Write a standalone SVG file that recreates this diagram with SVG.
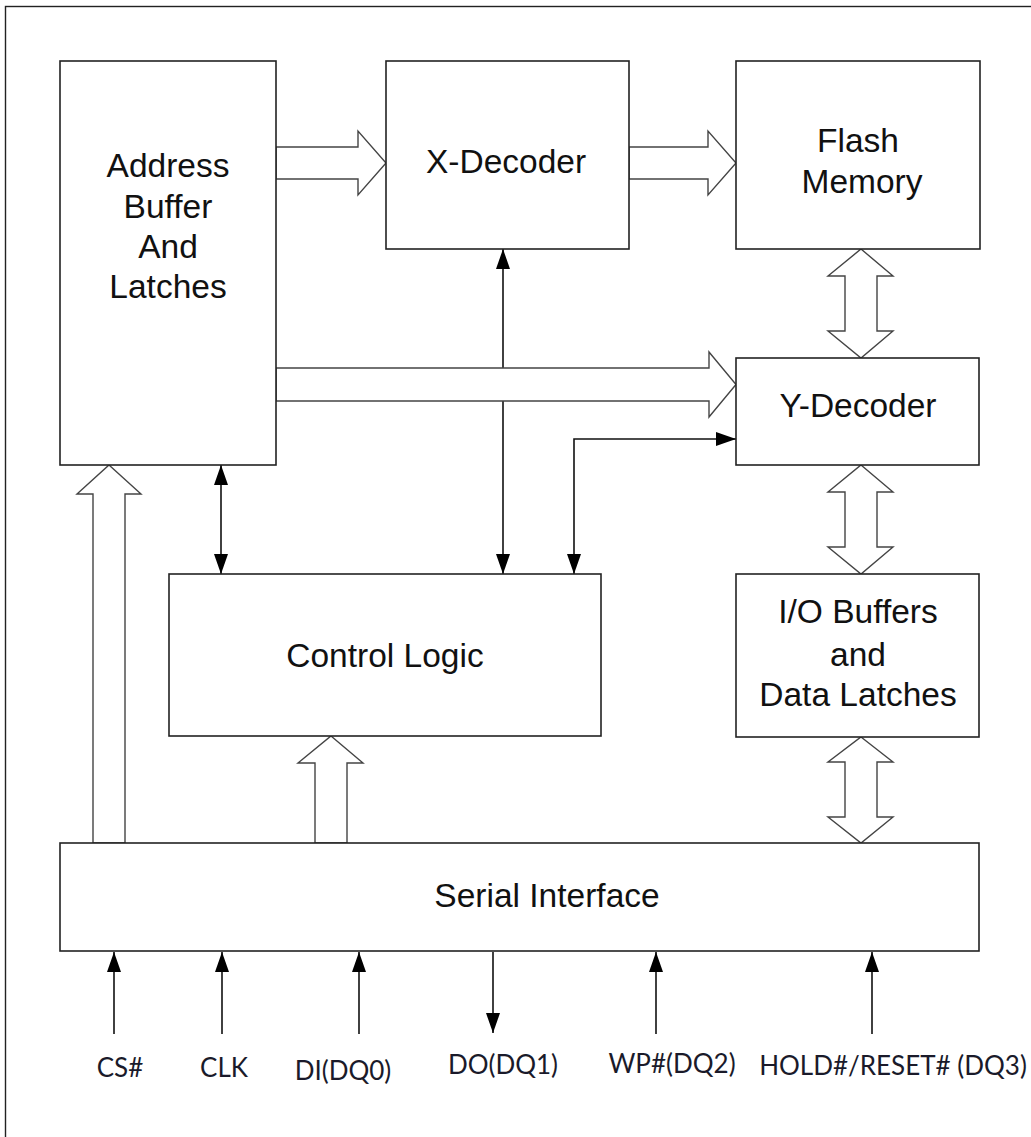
<svg xmlns="http://www.w3.org/2000/svg" width="1031" height="1137" viewBox="0 0 1031 1137">
<style>
.box{fill:#fff;stroke:#222;stroke-width:1.6}
.hollow{fill:#fff;stroke:#444;stroke-width:1.4;stroke-linejoin:miter}
.wire{fill:none;stroke:#111;stroke-width:1.6}
.lbl{font-family:"Liberation Sans",Arial,sans-serif;font-size:33.5px;fill:#111;text-anchor:middle}
.pin{font-family:Lato,"Open Sans",sans-serif;font-size:26px;fill:#1a1a2a;text-anchor:middle}
</style>
<defs>
<marker id="ah" markerUnits="userSpaceOnUse" markerWidth="20" markerHeight="14" refX="20" refY="7" orient="auto-start-reverse" viewBox="0 0 20 14">
<path d="M0,0 L20,7 L0,14 z" fill="#000"/>
</marker>
</defs>
<rect x="0" y="0" width="1031" height="1137" fill="#fff"/>
<rect x="5.5" y="6.5" width="1100" height="1200" fill="none" stroke="#222" stroke-width="1.4"/>

<g id="connectors">
<line class="wire" x1="503" y1="574" x2="503" y2="249" marker-start="url(#ah)" marker-end="url(#ah)"/>
<polyline class="wire" points="574,574 574,439 736,439" marker-start="url(#ah)" marker-end="url(#ah)"/>
<line class="wire" x1="221" y1="465" x2="221" y2="574" marker-start="url(#ah)" marker-end="url(#ah)"/>
<polygon class="hollow" points="276,147 358,147 358,131 386,163 358,195 358,179 276,179"/>
<polygon class="hollow" points="629,147 708,147 708,131 736,163 708,195 708,179 629,179"/>
<polygon class="hollow" points="276,368 709,368 709,352 736,384.5 709,417 709,401 276,401"/>
<polygon class="hollow" points="861,249 893,276 877,276 877,331 893,331 861,358 828,331 845,331 845,276 828,276"/>
<polygon class="hollow" points="861,465 893,492 877,492 877,547 893,547 861,574 828,547 845,547 845,492 828,492"/>
<polygon class="hollow" points="861,737 893,762 877,762 877,817 893,817 861,843 828,817 845,817 845,762 828,762"/>
<polygon class="hollow" points="109,465 141,494 125,494 125,843 93,843 93,494 77,494"/>
<polygon class="hollow" points="331,736 363,763 347,763 347,843 315,843 315,763 298,763"/>
<line class="wire" x1="114" y1="1034" x2="114" y2="952" marker-end="url(#ah)"/>
<line class="wire" x1="222" y1="1034" x2="222" y2="952" marker-end="url(#ah)"/>
<line class="wire" x1="359" y1="1034" x2="359" y2="952" marker-end="url(#ah)"/>
<line class="wire" x1="493" y1="952" x2="493" y2="1033" marker-end="url(#ah)"/>
<line class="wire" x1="656" y1="1034" x2="656" y2="952" marker-end="url(#ah)"/>
<line class="wire" x1="872" y1="1034" x2="872" y2="952" marker-end="url(#ah)"/>
</g>

<g id="address-buffer">
<rect class="box" x="60" y="61" width="216" height="404"/>
<text class="lbl" x="168" y="177">Address</text>
<text class="lbl" x="168" y="218">Buffer</text>
<text class="lbl" x="168" y="258">And</text>
<text class="lbl" x="168" y="298">Latches</text>
</g>
<g id="x-decoder">
<rect class="box" x="386" y="61" width="243" height="188"/>
<text class="lbl" x="506" y="173">X-Decoder</text>
</g>
<g id="flash-memory">
<rect class="box" x="736" y="61" width="244" height="188"/>
<text class="lbl" x="858" y="152">Flash</text>
<text class="lbl" x="862" y="193">Memory</text>
</g>
<g id="y-decoder">
<rect class="box" x="736" y="358" width="243" height="107"/>
<text class="lbl" x="858" y="417">Y-Decoder</text>
</g>
<g id="control-logic">
<rect class="box" x="169" y="574" width="432" height="162"/>
<text class="lbl" x="385" y="667">Control Logic</text>
</g>
<g id="io-buffers">
<rect class="box" x="736" y="574" width="243" height="163"/>
<text class="lbl" x="858" y="623">I/O Buffers</text>
<text class="lbl" x="858" y="666">and</text>
<text class="lbl" x="858" y="706">Data Latches</text>
</g>
<g id="serial-interface">
<rect class="box" x="60" y="843" width="919" height="108"/>
<text class="lbl" x="547" y="907">Serial Interface</text>
</g>

<g id="pins">
<text class="pin" x="120" y="1077">CS#</text>
<text class="pin" x="224" y="1077">CLK</text>
<text class="pin" x="343" y="1080">DI(DQ0)</text>
<text class="pin" x="503" y="1074">DO(DQ1)</text>
<text class="pin" x="672" y="1073">WP#(DQ2)</text>
<text class="pin" x="893" y="1075">HOLD#/RESET# (DQ3)</text>
</g>
</svg>
